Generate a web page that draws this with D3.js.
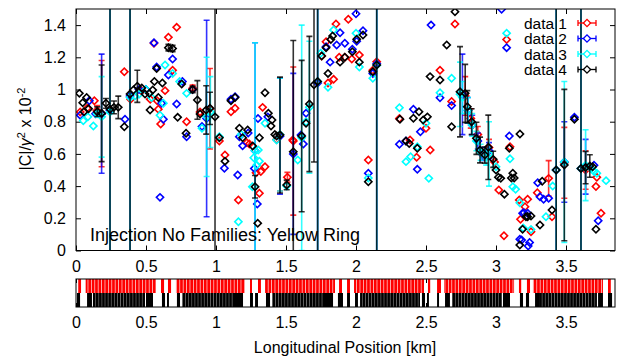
<!DOCTYPE html>
<html><head><meta charset="utf-8">
<script src="https://cdn.jsdelivr.net/npm/d3@7"></script>
<style>
body{margin:0;background:#fff}
svg{display:block}
text{font-family:"Liberation Sans",Arial,Helvetica,sans-serif;fill:#000}
</style>
</head><body>
<svg id="c" width="618" height="357"></svg>
<script>
// ---- data: [position km, |C|/gamma^2 x1e-2, error] ----
const data1 = [[0.03,0.86,0],[0.08,0.883,0],[0.131,0.93,0],[0.15,0.87,0.03],[0.183,0.85,0.33],[0.345,1.11,0],[0.39,0.94,0],[0.47,0.99,0],[0.53,0.94,0],[0.557,1.287,0],[0.58,0.93,0],[0.588,0.877,0],[0.605,0.786,0],[0.636,0.993,0],[0.66,1.324,0],[0.69,1.12,0],[0.719,1.386,0],[0.79,0.80,0],[0.833,1.007,0.02],[0.886,0.86,0],[0.957,0.88,0.25],[1.024,0.68,0],[1.064,0.593,0],[1.107,0.862,0],[1.136,0.883,0],[1.16,0.314,0],[1.22,0.67,0],[1.238,0.661,0],[1.286,0.483,0],[1.31,0.355,0],[1.32,0.49,0],[1.333,0.889,0],[1.35,0.52,0],[1.433,0.69,0],[1.457,0.72,0.35],[1.51,0.455,0.03],[1.548,0.686,0],[1.552,0.68,0.46],[1.755,1.208,0],[1.786,1.297,0],[1.80,1.04,0],[1.84,1.063,0],[1.857,1.407,0],[1.88,1.20,0],[1.92,1.20,0],[1.945,1.436,0],[1.97,1.19,0],[2.024,1.214,0],[2.088,0.562,0],[2.12,1.12,0],[2.148,1.173,0],[2.31,0.82,0],[2.386,0.686,0],[2.433,0.579,0],[2.5,0.759,0],[2.53,0.624,0],[2.60,1.12,0],[2.683,0.925,0],[2.707,1.407,0],[2.78,0.96,0.12],[2.82,0.82,0.06],[2.87,0.72,0.05],[2.91,0.6,0.04],[2.95,0.64,0.05],[2.99,0.55,0],[3.02,0.376,0],[3.057,0.092,0],[3.076,1.31,0],[3.1,0.645,0],[3.166,0.314,0],[3.175,0.194,0],[3.207,0.272,0],[3.226,0.318,0],[3.25,0.117,0],[3.295,0.359,0],[3.376,0.448,0.11],[3.40,0.21,0],[3.488,0.545,0.22],[3.64,0.5,0.12],[3.714,0.397,0],[3.72,0.455,0],[3.75,0.231,0]];
const data2 = [[0.03,0.84,0],[0.095,0.93,0],[0.14,0.85,0],[0.183,0.85,0.37],[0.243,0.87,2],[0.35,0.815,0],[0.386,0.96,2],[0.45,1.0,0],[0.5,1.0,0],[0.557,1.29,0],[0.576,1.14,0],[0.60,0.33,0],[0.612,0.914,0],[0.624,0.815,0],[0.66,1.09,0],[0.69,1.19,0],[0.719,0.91,0],[0.76,1.05,0],[0.79,0.707,0],[0.833,1.0,0],[0.90,0.77,0],[0.933,0.82,0.61],[1.06,0.511,0],[1.107,0.939,0],[1.136,0.955,0],[1.155,0.469,0],[1.167,0.707,0],[1.19,0.65,0],[1.23,0.73,0],[1.274,0.51,0],[1.279,0.62,0.67],[1.295,0.289,0],[1.30,0.82,0],[1.37,0.83,0],[1.457,0.71,0.36],[1.552,0.6,0.5],[1.607,0.717,0],[1.624,0.661,0],[1.643,0.852,0],[1.726,1.04,2],[1.786,1.266,0],[1.815,1.17,0],[1.862,1.276,0],[1.886,1.353,0],[1.92,1.287,0],[1.974,1.25,0],[2.0,1.47,0],[2.005,1.30,0],[2.05,1.365,0],[2.088,0.48,0],[2.12,1.10,0],[2.148,1.16,2],[2.31,0.66,0],[2.357,0.68,0],[2.41,0.877,0],[2.438,0.504,0],[2.46,0.738,0],[2.536,1.40,0],[2.60,0.949,0],[2.683,0.90,0],[2.76,0.97,0.25],[2.80,0.87,0.08],[2.83,0.78,0.06],[2.87,0.68,0.05],[2.90,0.6,0.04],[2.95,0.62,0.05],[3.04,1.498,0],[3.076,1.26,0],[3.095,0.711,0],[3.17,0.07,0],[3.183,0.065,0],[3.19,0.231,0],[3.2,0.235,0],[3.226,0.231,0],[3.23,0.028,0],[3.24,0.05,0],[3.298,0.421,0],[3.314,0.334,0],[3.34,0.318,0],[3.376,0.324,0],[3.43,0.5,2],[3.488,0.55,0.25],[3.56,0.827,0],[3.607,0.51,2],[3.64,0.52,0.17],[3.70,0.53,0],[3.73,0.185,0]];
const data3 = [[0.052,0.806,0],[0.085,0.83,0],[0.124,0.773,0],[0.15,0.85,0.02],[0.183,0.83,0.25],[0.243,0.86,2],[0.386,0.95,2],[0.42,0.96,0],[0.45,0.97,0],[0.5,1.0,0],[0.54,0.95,0],[0.6,0.84,0],[0.624,0.914,0],[0.636,1.152,0],[0.69,1.10,0],[0.74,1.05,0],[0.79,0.976,0],[0.9,0.76,0],[0.933,0.83,0.37],[0.96,0.86,0.22],[1.024,0.707,0],[1.16,0.179,0],[1.18,0.72,0],[1.26,0.396,0],[1.27,0.576,0],[1.279,0.62,0.67],[1.29,0.53,0],[1.302,0.624,0],[1.31,0.555,0],[1.35,0.79,0],[1.433,0.686,0],[1.457,0.72,0.35],[1.505,0.40,0],[1.584,0.562,0],[1.612,0.70,0.7],[1.643,0.80,0],[1.667,0.89,0.41],[1.726,1.05,2],[1.748,1.225,0],[1.8,1.014,0],[1.84,1.37,0],[2.0,1.35,0],[2.024,1.14,0],[2.088,0.45,0],[2.12,1.07,0],[2.148,1.15,2],[2.31,0.887,0],[2.357,0.552,0],[2.39,0.583,0],[2.438,0.645,0],[2.5,0.79,0],[2.52,0.448,0],[2.60,0.98,0],[2.683,1.07,0],[2.743,0.97,0.2],[2.76,0.95,0.1],[2.80,0.87,0.08],[2.83,0.78,0.07],[2.86,0.68,0.06],[2.89,0.61,0.05],[2.93,0.58,0.05],[2.95,0.6,0.2],[3.0,0.52,0],[3.076,1.35,0],[3.1,0.57,0],[3.12,0.396,0],[3.14,0.38,0],[3.17,0.297,0],[3.195,0.14,0],[3.25,0.13,0],[3.357,0.21,0],[3.405,0.40,0],[3.43,0.5,2],[3.488,0.55,0.5],[3.607,0.51,2],[3.64,0.53,0.22],[3.68,0.51,0],[3.70,0.49,0],[3.72,0.48,0],[3.786,0.434,0]];
const data4 = [[0.024,0.976,0],[0.048,0.918,0],[0.057,0.862,0],[0.076,0.95,0],[0.09,0.88,0],[0.152,0.862,0.03],[0.183,0.852,0.3],[0.214,0.914,0.03],[0.243,0.877,2],[0.271,0.889,0.04],[0.302,0.889,0.07],[0.345,0.769,0],[0.386,0.972,2],[0.41,0.997,0],[0.438,1.02,0.1],[0.47,1.01,0],[0.493,0.972,0],[0.524,0.976,0],[0.529,0.873,0],[0.548,0.997,0],[0.56,1.05,0],[0.576,1.13,0],[0.588,0.95,0],[0.617,1.04,0],[0.66,1.26,0.02],[0.69,1.255,0.02],[0.726,0.827,0],[0.755,1.034,0],[0.786,0.728,0],[0.833,1.0,0.02],[0.867,0.935,0.12],[0.886,0.848,0],[0.93,0.873,0.15],[0.957,0.883,0.1],[0.993,0.83,2],[1.024,0.70,0],[1.064,0.555,0],[1.107,0.93,0],[1.136,0.95,0],[1.167,0.759,0],[1.19,0.70,0],[1.226,0.748,0],[1.262,0.649,0],[1.279,0.396,0.07],[1.298,0.169,0],[1.31,0.70,0],[1.35,0.98,0],[1.374,0.852,0],[1.393,0.773,0],[1.40,0.81,0],[1.42,0.72,0],[1.433,0.711,0],[1.457,0.717,0.36],[1.505,0.407,0.03],[1.552,0.614,0.69],[1.612,0.711,0.47],[1.643,0.79,0],[1.667,0.91,0.42],[1.70,1.03,0.48],[1.726,1.05,2],[1.755,1.208,0],[1.786,1.26,0],[1.80,1.10,0],[1.82,1.31,0],[1.833,1.332,0],[1.886,1.17,0],[1.92,1.20,0],[1.974,1.235,0],[2.005,1.312,0],[2.024,1.17,0],[2.05,1.338,0],[2.088,0.427,0],[2.12,1.11,0],[2.148,1.152,2],[2.314,0.815,0],[2.357,0.68,0],[2.38,0.665,0],[2.41,0.822,0],[2.438,0.635,0],[2.45,0.862,0],[2.48,0.81,0],[2.51,0.83,0],[2.529,1.08,0],[2.60,1.059,0],[2.648,1.276,0],[2.683,0.769,0],[2.707,1.483,0],[2.743,0.986,0.28],[2.78,0.976,0.18],[2.795,0.893,0.1],[2.826,0.80,0.08],[2.86,0.697,0.1],[2.886,0.624,0.08],[2.92,0.593,0.05],[2.945,0.641,0.2],[2.98,0.566,0.05],[3.0,0.50,0],[3.017,0.455,0],[3.034,0.448,0],[3.06,0.35,0],[3.095,0.635,0],[3.11,0.45,0],[3.12,0.48,0],[3.13,0.45,0],[3.171,0.724,0],[3.17,0.034,0],[3.19,0.132,0],[3.214,0.21,0],[3.226,0.21,0],[3.25,0.214,0],[3.314,0.158,0],[3.33,0.43,0],[3.40,0.252,0],[3.43,0.50,2],[3.488,0.531,0.47],[3.56,0.815,0],[3.607,0.51,2],[3.64,0.515,0.1],[3.67,0.525,0.07],[3.69,0.52,0],[3.714,0.132,0]];

const seriesNames = ["data 1","data 2","data 3","data 4"];
const seriesColors = ["#ff0000","#0000ff","#00ffff","#000000"];
const yTicks = [0,0.2,0.4,0.6,0.8,1,1.2,1.4];
const xTicks = [0,0.5,1,1.5,2,2.5,3,3.5];

// lattice strip segments [start km, end km]
const redSegments = [[0.016,0.036],[0.069,0.571],[0.607,0.629],[0.657,0.679],[0.714,1.207],[1.243,1.257],[1.3,1.321],[1.35,1.85],[1.879,1.9],[1.936,1.957],[1.986,2.486],[2.514,2.53],[2.579,2.607],[2.629,3.129],[3.164,3.18],[3.221,3.243],[3.264,3.764],[3.8,3.82]];
const blackSegments = [[0.007,0.029],[0.079,0.114],[0.121,0.493],[0.5,0.55],[0.614,0.636],[0.65,0.664],[0.721,0.743],[0.757,1.121],[1.121,1.193],[1.243,1.264],[1.279,1.3],[1.357,1.386],[1.4,1.764],[1.764,1.836],[1.871,1.907],[1.936,1.957],[1.993,2.014],[2.029,2.457],[2.471,2.493],[2.507,2.521],[2.579,2.593],[2.636,2.671],[2.686,3.043],[3.05,3.1],[3.171,3.193],[3.214,3.236],[3.279,3.314],[3.314,3.721],[3.729,3.764],[3.8,3.829]];

const title = "Injection No Families: Yellow Ring";
const xLabel = "Longitudinal Position [km]";

// ---- drawing ----
const svg = d3.select("#c");
const P = {l:76, r:615, t:9, b:250.5};
const S = {t:279, m:293, b:307};
const x = d3.scaleLinear().domain([0,3.85]).range([P.l,P.r]);
const y = d3.scaleLinear().domain([0,1.5]).range([P.b,P.t]);
const fmt = d => String(d);
const FS = 16;

const defs = svg.append("defs");
defs.append("clipPath").attr("id","clip").append("rect")
  .attr("x",P.l).attr("y",P.t).attr("width",P.r-P.l).attr("height",P.b-P.t);
const rp = defs.append("pattern").attr("id","rp").attr("patternUnits","userSpaceOnUse")
  .attr("width",3.4).attr("height",40);
rp.append("rect").attr("width",3.4).attr("height",40).attr("fill","#ffc4c4");
rp.append("rect").attr("width",2.6).attr("height",40).attr("fill","#ff0000");
const kp = defs.append("pattern").attr("id","kp").attr("patternUnits","userSpaceOnUse")
  .attr("width",3.1).attr("height",40);
kp.append("rect").attr("width",3.1).attr("height",40).attr("fill","#6a6a6a");
kp.append("rect").attr("width",2.3).attr("height",40).attr("fill","#000");

// axes of main plot
const tickStyle = g => { g.select(".domain").remove(); g.selectAll("line").attr("stroke","#000"); g.selectAll("text").attr("font-size",FS).attr("font-family","Liberation Sans, Arial, sans-serif"); };
svg.append("g").attr("transform",`translate(${P.l},0)`)
  .call(d3.axisLeft(y).tickValues(yTicks).tickSize(-5).tickPadding(10).tickFormat(fmt)).call(tickStyle);
svg.append("g").attr("transform",`translate(${P.r},0)`)
  .call(d3.axisRight(y).tickValues(yTicks).tickSize(-5).tickFormat("")).call(tickStyle);
svg.append("g").attr("transform",`translate(0,${P.b})`)
  .call(d3.axisBottom(x).tickValues(xTicks).tickSize(-5).tickPadding(10).tickFormat(fmt)).call(tickStyle);
svg.append("g").attr("transform",`translate(0,${P.t})`)
  .call(d3.axisTop(x).tickValues(xTicks).tickSize(-5).tickFormat("")).call(tickStyle);

// series
const plot = svg.append("g").attr("clip-path","url(#clip)");
const diamond = d3.symbol(d3.symbolSquare, 26);
[data1,data2,data3,data4].forEach((data,i) => {
  const col = seriesColors[i];
  const g = plot.append("g");
  const eb = data.filter(d => d[2] > 0);
  const bars = g.append("g").attr("stroke",col).attr("stroke-width",1.6).attr("stroke-opacity",0.8);
  bars.selectAll("line.v").data(eb).join("line").attr("class","v")
    .attr("x1",d=>x(d[0])).attr("x2",d=>x(d[0]))
    .attr("y1",d=>y(d[1]-d[2])).attr("y2",d=>y(d[1]+d[2]));
  bars.selectAll("line.hi").data(eb).join("line").attr("class","hi")
    .attr("x1",d=>x(d[0])-3).attr("x2",d=>x(d[0])+3)
    .attr("y1",d=>y(d[1]+d[2])).attr("y2",d=>y(d[1]+d[2]));
  bars.selectAll("line.lo").data(eb).join("line").attr("class","lo")
    .attr("x1",d=>x(d[0])-3).attr("x2",d=>x(d[0])+3)
    .attr("y1",d=>y(d[1]-d[2])).attr("y2",d=>y(d[1]-d[2]));
  g.selectAll("path").data(data).join("path")
    .attr("d",diamond)
    .attr("transform",d=>`translate(${x(d[0])},${y(d[1])}) rotate(45)`)
    .attr("fill","none").attr("stroke",col).attr("stroke-width",1.6);
});

// frame
svg.append("rect").attr("x",P.l).attr("y",P.t).attr("width",P.r-P.l).attr("height",P.b-P.t)
  .attr("fill","none").attr("stroke","#000").attr("stroke-width",1);

// title inside plot
svg.append("text").attr("x",90).attr("y",241).attr("font-size",18).text(title);

// legend
const lg = svg.append("g");
seriesNames.forEach((n,i) => {
  const cy = 23 + i*15.5;
  lg.append("text").attr("x",567).attr("y",cy+5.5).attr("text-anchor","end").attr("font-size",15.5).text(n);
  const k = lg.append("g").attr("stroke",seriesColors[i]).attr("stroke-width",1.3);
  k.append("line").attr("x1",578).attr("x2",596).attr("y1",cy).attr("y2",cy);
  k.append("line").attr("x1",578).attr("x2",578).attr("y1",cy-3).attr("y2",cy+3);
  k.append("line").attr("x1",596).attr("x2",596).attr("y1",cy-3).attr("y2",cy+3);
  k.append("path").attr("d",diamond).attr("transform",`translate(587,${cy}) rotate(45)`).attr("fill","#fff");
});

// y label
const yl = svg.append("text").attr("transform","translate(31,129) rotate(-90)")
  .attr("text-anchor","middle").attr("font-size",FS);
yl.append("tspan").text("|C|/");
yl.append("tspan").attr("font-style","italic").text("γ");
yl.append("tspan").attr("dy",-6).attr("font-size",11).text("2");
yl.append("tspan").attr("dy",6).text(" x 10");
yl.append("tspan").attr("dy",-6).attr("font-size",11).text("-2");

// lattice strip
const sg = svg.append("g");
sg.append("g").attr("transform",`translate(0,${S.t})`)
  .call(d3.axisTop(x).tickValues(xTicks).tickSize(-4).tickFormat("")).call(tickStyle);
sg.append("g").attr("transform",`translate(0,${S.b})`)
  .call(d3.axisBottom(x).tickValues(xTicks).tickSize(-4).tickPadding(10).tickFormat(fmt)).call(tickStyle);
sg.selectAll("rect.r").data(redSegments).join("rect").attr("class","r")
  .attr("x",d=>x(d[0])).attr("width",d=>Math.max(1.5,x(d[1])-x(d[0])))
  .attr("y",S.t).attr("height",S.m-S.t)
  .attr("fill",d => (d[1]-d[0] > 0.1) ? "url(#rp)" : "#ff0000");
sg.selectAll("rect.k").data(blackSegments).join("rect").attr("class","k")
  .attr("x",d=>x(d[0])).attr("width",d=>Math.max(1.5,x(d[1])-x(d[0])))
  .attr("y",S.m).attr("height",S.b-S.m)
  .attr("fill",d => (d[1]-d[0] > 0.1) ? "url(#kp)" : "#000");
sg.append("rect").attr("x",P.l).attr("y",S.t).attr("width",P.r-P.l).attr("height",S.b-S.t)
  .attr("fill","none").attr("stroke","#000").attr("stroke-width",1);

svg.append("text").attr("x",345).attr("y",353).attr("text-anchor","middle").attr("font-size",FS).text(xLabel);
</script>
</body></html>
